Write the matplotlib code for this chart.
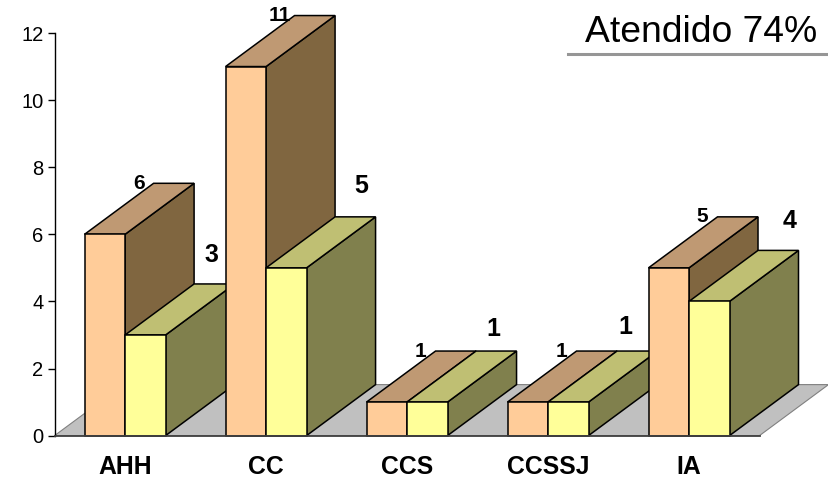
import matplotlib.pyplot as plt
from matplotlib.patches import Polygon

plt.rcParams["font.family"] = ["Liberation Sans", "DejaVu Sans"]

# Chart data
categories = ["AHH", "CC", "CCS", "CCSSJ", "IA"]
series_a = [6, 11, 1, 1, 5]
series_b = [3, 5, 1, 1, 4]

# Faces: front, top, side
colors_a = ["#FFCC99", "#BF9973", "#806640"]
colors_b = ["#FFFF99", "#BFBF73", "#80804D"]

# Label offsets for the second series (pixels from the bar's front top left)
offsets_b = [(86, 80), (95, 82), (86, 73), (77, 75), (101, 80)]

W, H = 829, 478
fig = plt.figure(figsize=(W / 100, H / 100), dpi=100)

# Axes box in pixels
left, right, bottom, top = 54.6, 759.5, 435.6, 33
ax = fig.add_axes([left / W, 1 - bottom / H, (right - left) / W, (bottom - top) / H])
ax.set_xlim(0, 5)
ax.set_ylim(0, 12)
ax.patch.set_alpha(0)

# 3D depth in data units
px_x = 5 / (right - left)
px_y = 12 / (bottom - top)
dx = 69 * px_x
dy = 51 * px_y
bar_w = 40.5 * px_x


def draw_bar(x, h, colors):
    front = [(x, 0), (x + bar_w, 0), (x + bar_w, h), (x, h)]
    roof = [(x, h), (x + bar_w, h), (x + bar_w + dx, h + dy), (x + dx, h + dy)]
    side = [(x + bar_w, 0), (x + bar_w + dx, dy), (x + bar_w + dx, h + dy), (x + bar_w, h)]
    for pts, c in zip([side, roof, front], [colors[2], colors[1], colors[0]]):
        ax.add_patch(Polygon(pts, closed=True, facecolor=c, edgecolor="black",
                             linewidth=1.1, clip_on=False, joinstyle="miter"))


# Floor
ax.add_patch(Polygon([(0, 0), (5, 0), (5 + dx, dy), (dx, dy)], closed=True,
                     facecolor="#C0C0C0", edgecolor="#808080", linewidth=0.8,
                     clip_on=False))

for i in range(len(categories)):
    x0 = i + 0.5 - bar_w
    draw_bar(x0, series_a[i], colors_a)
    draw_bar(i + 0.5, series_b[i], colors_b)

for i in range(len(categories)):
    x0 = i + 0.5 - bar_w
    ax.annotate(str(series_a[i]), (x0, series_a[i]), xytext=(54 * 0.72, 51 * 0.72),
                textcoords="offset points", ha="center", va="center",
                fontsize=15, fontweight="bold", annotation_clip=False)
    ox, oy = offsets_b[i]
    ax.annotate(str(series_b[i]), (i + 0.5, series_b[i]), xytext=(ox * 0.72, oy * 0.72),
                textcoords="offset points", ha="center", va="center",
                fontsize=18, fontweight="bold", annotation_clip=False)

# Axes
for s in ["top", "right"]:
    ax.spines[s].set_visible(False)
ax.spines["left"].set_linewidth(1.0)
ax.spines["bottom"].set_linewidth(1.3)
ax.spines["bottom"].set_color("#404040")
ax.spines["bottom"].set_zorder(5)

ax.set_yticks(range(0, 13, 2))
ax.tick_params(axis="y", length=5, width=1, labelsize=14.5, pad=3)
ax.set_xticks([i + 0.5 for i in range(len(categories))])
ax.set_xticklabels(categories, fontsize=17.8, fontweight="bold")
ax.tick_params(axis="x", length=0, pad=14)

# Title with rule under it
fig.text(701 / W, 1 - 33 / H, "Atendido 74%", fontsize=26.8, ha="center", va="center")
fig.add_artist(plt.Line2D([568 / W, 1], [1 - 54 / H, 1 - 54 / H], color="#969696", linewidth=2.2))

fig.savefig("out.png", dpi=100)
plt.close()
